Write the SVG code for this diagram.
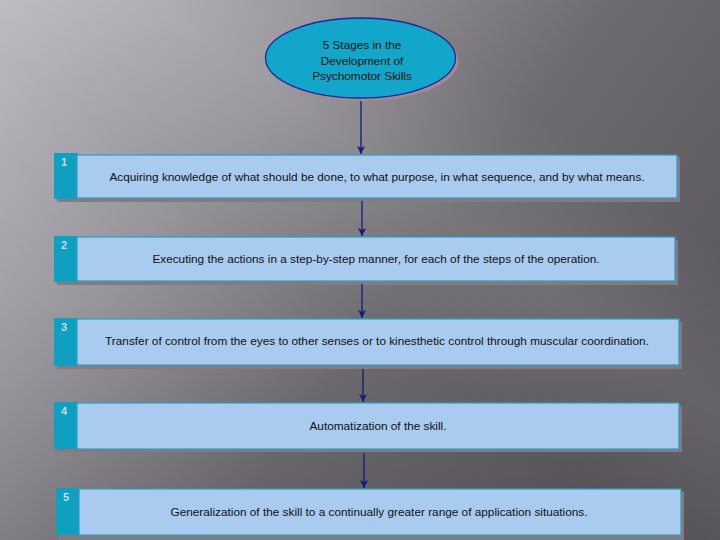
<svg xmlns="http://www.w3.org/2000/svg" width="720" height="540" viewBox="0 0 720 540">
<defs>
<linearGradient id="bg" x1="0" y1="0" x2="1" y2="0.55">
<stop offset="0" stop-color="#bdbbc1"/>
<stop offset="0.35" stop-color="#96939a"/>
<stop offset="0.65" stop-color="#6e6b71"/>
<stop offset="1" stop-color="#5c5a5e"/>
</linearGradient>
<linearGradient id="streak" gradientUnits="userSpaceOnUse" x1="300" y1="-60" x2="140" y2="160">
<stop offset="0" stop-color="#ffffff" stop-opacity="0"/>
<stop offset="0.5" stop-color="#ffffff" stop-opacity="0.08"/>
<stop offset="1" stop-color="#ffffff" stop-opacity="0"/>
</linearGradient>
<linearGradient id="shade" gradientUnits="userSpaceOnUse" x1="0" y1="300" x2="0" y2="540">
<stop offset="0" stop-color="#000000" stop-opacity="0"/>
<stop offset="1" stop-color="#000000" stop-opacity="0.08"/>
</linearGradient>
<marker id="ah" viewBox="0 0 8 14" refX="8" refY="7" markerWidth="8" markerHeight="14" markerUnits="userSpaceOnUse" orient="auto">
<path d="M0,3 L8,7 L0,11 L2,7 Z" fill="#141b78"/>
</marker>
<style>
.shadow{fill:#857a82}
.strip{fill:#0f9fc0}
.box{fill:#a9cbf0;stroke:#2a9fbf;stroke-width:1.2}
.num{font-family:"Liberation Sans",Arial,sans-serif;font-size:11px;font-weight:bold;fill:#c2dde6}
.lbl{font-family:"Liberation Sans",Arial,sans-serif;font-size:11.8px;fill:#111111;text-anchor:middle}
.conn{stroke:#141b78;stroke-width:1.3;fill:none}
</style>
</defs>
<rect width="720" height="540" fill="url(#bg)"/>
<rect width="720" height="540" fill="url(#streak)"/>
<rect width="720" height="540" fill="url(#shade)"/>

<g id="title">
<ellipse cx="363.5" cy="61" rx="95" ry="40" fill="#a28a94"/>
<ellipse cx="360.5" cy="58" rx="95" ry="40" fill="#12a7ca" stroke="#1c2a9c" stroke-width="1.3"/>
<text class="lbl" x="362" y="49">5 Stages in the</text>
<text class="lbl" x="362" y="65">Development of</text>
<text class="lbl" x="362" y="80">Psychomotor Skills</text>
</g>

<g id="stage1">
<rect class="shadow" x="57" y="157" width="623" height="45"/>
<rect class="strip" x="54" y="153" width="24" height="46"/>
<rect class="box" x="77" y="155" width="600" height="43"/>
<text class="num" x="61" y="166">1</text>
<text class="lbl" x="377" y="181">Acquiring knowledge of what should be done, to what purpose, in what sequence, and by what means.</text>
</g>

<g id="stage2">
<rect class="shadow" x="57" y="240" width="621" height="45"/>
<rect class="strip" x="54" y="236" width="24" height="46"/>
<rect class="box" x="77" y="237" width="598" height="44"/>
<text class="num" x="61" y="249">2</text>
<text class="lbl" x="376" y="263">Executing the actions in a step-by-step manner, for each of the steps of the operation.</text>
</g>

<g id="stage3">
<rect class="shadow" x="57" y="322" width="625" height="47"/>
<rect class="strip" x="54" y="318" width="24" height="48"/>
<rect class="box" x="77" y="319" width="602" height="46"/>
<text class="num" x="61" y="331">3</text>
<text class="lbl" x="377" y="345">Transfer of control from the eyes to other senses or to kinesthetic control through muscular coordination.</text>
</g>

<g id="stage4">
<rect class="shadow" x="57" y="406" width="625" height="46"/>
<rect class="strip" x="54" y="402" width="24" height="47"/>
<rect class="box" x="77" y="403" width="602" height="46"/>
<text class="num" x="61" y="415">4</text>
<text class="lbl" x="378" y="430">Automatization of the skill.</text>
</g>

<g id="stage5">
<rect class="shadow" x="59" y="492" width="625" height="48"/>
<rect class="strip" x="56" y="488" width="24" height="47"/>
<rect class="box" x="79" y="489" width="602" height="46"/>
<text class="num" x="63" y="501">5</text>
<text class="lbl" x="379" y="516">Generalization of the skill to a continually greater range of application situations.</text>
</g>

<g id="connectors">
<line class="conn" x1="361" y1="101" x2="361" y2="154" marker-end="url(#ah)"/>
<line class="conn" x1="362" y1="201" x2="362" y2="236" marker-end="url(#ah)"/>
<line class="conn" x1="362" y1="284" x2="362" y2="318" marker-end="url(#ah)"/>
<line class="conn" x1="363" y1="369" x2="363" y2="402" marker-end="url(#ah)"/>
<line class="conn" x1="364" y1="453" x2="364" y2="488" marker-end="url(#ah)"/>
</g>
</svg>
